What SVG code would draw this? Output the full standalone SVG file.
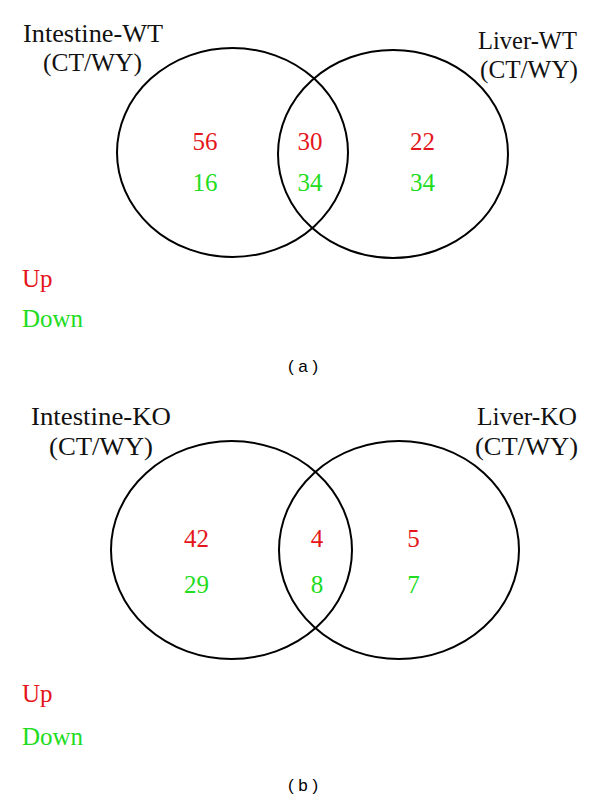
<svg xmlns="http://www.w3.org/2000/svg" width="600" height="802" viewBox="0 0 600 802">
<style>
.c{fill:none;stroke:#000;stroke-width:2}
.t{font-family:"Liberation Serif","Times New Roman",serif;font-size:25px;fill:#111}
.n{font-family:"Liberation Serif","Times New Roman",serif;font-size:25px;text-anchor:middle}
.up{fill:#e4161c}
.dn{fill:#22dc22}
.lg{font-family:"Liberation Serif","Times New Roman",serif;font-size:25px}
.cap{font-family:"Liberation Sans",Arial,sans-serif;font-size:17px;text-anchor:middle;fill:#000}
</style>
<rect width="600" height="802" fill="#fff"/>
<g id="panel-a">
  <g id="intestine-wt">
    <ellipse class="c" cx="232.5" cy="152.5" rx="115.5" ry="104.5"/>
    <text class="t" x="23" y="42" textLength="140" lengthAdjust="spacingAndGlyphs">Intestine-WT</text>
    <text class="t" x="43" y="71" textLength="99" lengthAdjust="spacingAndGlyphs">(CT/WY)</text>
    <text class="n up" x="205" y="150">56</text>
    <text class="n dn" x="205" y="191">16</text>
  </g>
  <g id="liver-wt">
    <ellipse class="c" cx="393" cy="154" rx="115" ry="104"/>
    <text class="t" x="478" y="49" textLength="99" lengthAdjust="spacingAndGlyphs">Liver-WT</text>
    <text class="t" x="480" y="78" textLength="98" lengthAdjust="spacingAndGlyphs">(CT/WY)</text>
    <text class="n up" x="422.5" y="150">22</text>
    <text class="n dn" x="422.5" y="191">34</text>
  </g>
  <g id="overlap-wt">
    <text class="n up" x="310" y="150">30</text>
    <text class="n dn" x="310" y="191">34</text>
  </g>
  <g id="legend-a">
    <text class="lg up" x="22" y="287">Up</text>
    <text class="lg dn" x="22" y="327">Down</text>
  </g>
  <text class="cap" x="303" y="372">( a )</text>
</g>
<g id="panel-b">
  <g id="intestine-ko">
    <ellipse class="c" cx="231.5" cy="550" rx="120.5" ry="109"/>
    <text class="t" x="31" y="425" textLength="140" lengthAdjust="spacingAndGlyphs">Intestine-KO</text>
    <text class="t" x="49" y="455" textLength="104" lengthAdjust="spacingAndGlyphs">(CT/WY)</text>
    <text class="n up" x="196.5" y="547">42</text>
    <text class="n dn" x="196.5" y="593">29</text>
  </g>
  <g id="liver-ko">
    <ellipse class="c" cx="399" cy="550" rx="120" ry="109"/>
    <text class="t" x="477" y="425" textLength="100" lengthAdjust="spacingAndGlyphs">Liver-KO</text>
    <text class="t" x="475" y="455" textLength="103" lengthAdjust="spacingAndGlyphs">(CT/WY)</text>
    <text class="n up" x="413.5" y="547">5</text>
    <text class="n dn" x="413.5" y="593">7</text>
  </g>
  <g id="overlap-ko">
    <text class="n up" x="317" y="547">4</text>
    <text class="n dn" x="317" y="593">8</text>
  </g>
  <g id="legend-b">
    <text class="lg up" x="22" y="702">Up</text>
    <text class="lg dn" x="22" y="745">Down</text>
  </g>
  <text class="cap" x="303" y="791">( b )</text>
</g>
<g id="connectors"></g>
</svg>
